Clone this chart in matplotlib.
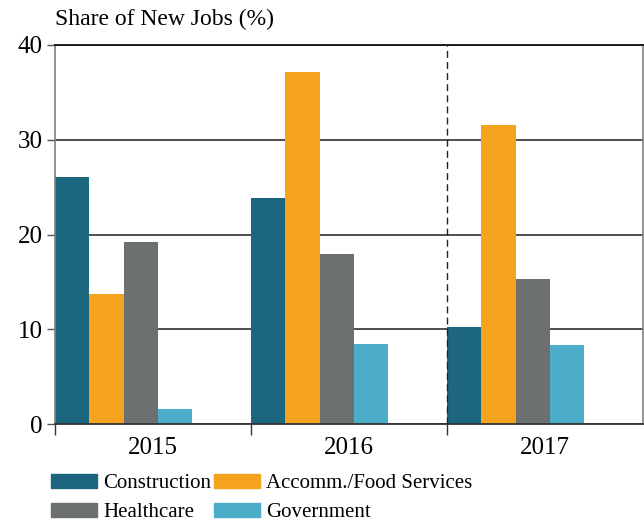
import matplotlib.pyplot as plt
from matplotlib.patches import Patch

years = ["2015", "2016", "2017"]
construction = [26.1, 23.9, 10.2]
accomm = [13.7, 37.2, 31.6]
healthcare = [19.2, 17.9, 15.3]
government = [1.6, 8.4, 8.3]

series = [construction, accomm, healthcare, government]
names = ["Construction", "Accomm./Food Services", "Healthcare", "Government"]
colors = ["#1d6680", "#f5a21e", "#6d7071", "#4badc7"]

plt.rcParams["font.family"] = ["Liberation Serif", "DejaVu Serif"]

fig = plt.figure(figsize=(6.44, 5.22), dpi=100)
ax = fig.add_axes([0.0854, 0.1877, 0.913, 0.7261])

w = 0.175
for j, vals in enumerate(series):
    xs = [i + j * w for i in range(len(years))]
    ax.bar(xs, vals, width=w, align="edge", color=colors[j], zorder=2)

ax.set_xlim(0, 3)
ax.set_ylim(0, 40)
ax.set_yticks([0, 10, 20, 30, 40])
ax.yaxis.grid(True, color="#404040", linewidth=1.3, zorder=1)
ax.set_axisbelow(True)

ax.set_xticks([0, 1, 2])
ax.set_xticklabels([])
ax.set_xticks([0.5, 1.5, 2.5], minor=True)
ax.set_xticklabels(years, minor=True)
ax.tick_params(axis="x", which="major", length=8, width=1, color="#333333")
ax.tick_params(axis="x", which="minor", length=0, pad=9, labelsize=18)
ax.tick_params(axis="y", length=6, width=1, color="#555555", labelsize=18, pad=3)

ax.axvline(2, color="#222222", linestyle=(0, (5, 3)), linewidth=1, zorder=3)

for s in ["left", "right"]:
    ax.spines[s].set_color("#808080")
    ax.spines[s].set_linewidth(1.2)
ax.spines["bottom"].set_color("#333333")
ax.spines["bottom"].set_linewidth(1.3)
ax.spines["top"].set_color("#111111")
ax.spines["top"].set_linewidth(1.3)

fig.text(0.0854, 0.962, "Share of New Jobs (%)", fontsize=17, va="center", ha="left")

# matplotlib fills legend columns first, so reorder to get rows as in the original
order = [0, 2, 1, 3]
handles = [Patch(color=colors[k]) for k in order]
labels = [names[k] for k in order]
fig.legend(handles, labels, ncol=2, loc="lower left", bbox_to_anchor=(0.06, -0.024),
           frameon=False, fontsize=15, handlelength=2.2, handleheight=0.65,
           handletextpad=0.3, columnspacing=0.15, labelspacing=0.45,
           borderaxespad=0.2)

fig.savefig("out.png", dpi=100)
